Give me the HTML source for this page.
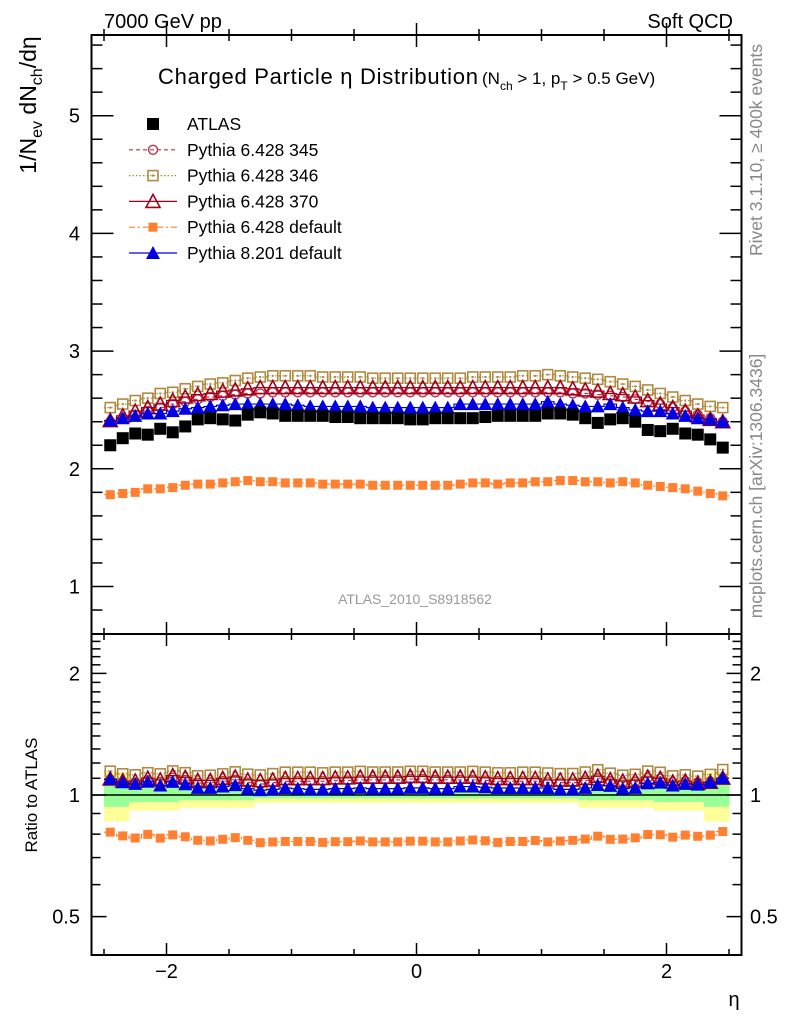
<!DOCTYPE html>
<html><head><meta charset="utf-8"><style>
html,body{margin:0;padding:0;background:#fff;}
svg{display:block;font-family:"Liberation Sans",sans-serif;}
</style></head><body>
<svg id="chart" width="786" height="1024" viewBox="0 0 786 1024" xmlns="http://www.w3.org/2000/svg">
<text x="104" y="28" font-size="20">7000 GeV pp</text>
<text x="733" y="28" font-size="20" text-anchor="end">Soft QCD</text>
<text x="158" y="84" font-size="22" textLength="320">Charged Particle η Distribution</text>
<text x="482" y="84" font-size="17">(N<tspan font-size="12" dy="6">ch</tspan><tspan dy="-6"> &gt; 1, p</tspan><tspan font-size="12" dy="6">T</tspan><tspan dy="-6"> &gt; 0.5 GeV)</tspan></text>
<text transform="translate(36,105) rotate(-90)" font-size="23" text-anchor="middle">1/N<tspan font-size="16" dy="6">ev</tspan><tspan dy="-6"> dN</tspan><tspan font-size="16" dy="6">ch</tspan><tspan dy="-6">/dη</tspan></text>
<text transform="translate(37,795) rotate(-90)" font-size="17" text-anchor="middle">Ratio to ATLAS</text>
<text transform="translate(762,150) rotate(-90)" font-size="17.5" fill="#888" text-anchor="middle">Rivet 3.1.10, ≥ 400k events</text>
<text transform="translate(762,486) rotate(-90)" font-size="17.5" fill="#888" text-anchor="middle">mcplots.cern.ch [arXiv:1306.3436]</text>
<text x="415" y="604" font-size="14" fill="#999" text-anchor="middle">ATLAS_2010_S8918562</text>
<text x="734" y="1006" font-size="20" text-anchor="middle">η</text>
<g id="plot"></g>
<g id="legend"></g>
</svg>
<script>
const etaCenters = [-2.45,-2.35,-2.25,-2.15,-2.05,-1.95,-1.85,-1.75,-1.65,-1.55,-1.45,-1.35,-1.25,-1.15,-1.05,-0.95,-0.85,-0.75,-0.65,-0.55,-0.45,-0.35,-0.25,-0.15,-0.05,0.05,0.15,0.25,0.35,0.45,0.55,0.65,0.75,0.85,0.95,1.05,1.15,1.25,1.35,1.45,1.55,1.65,1.75,1.85,1.95,2.05,2.15,2.25,2.35,2.45];
const atlas = [2.20,2.26,2.30,2.29,2.34,2.31,2.36,2.42,2.43,2.42,2.41,2.46,2.48,2.47,2.45,2.45,2.45,2.45,2.44,2.44,2.43,2.43,2.43,2.43,2.42,2.42,2.43,2.43,2.43,2.43,2.44,2.45,2.45,2.45,2.45,2.47,2.47,2.46,2.43,2.39,2.42,2.43,2.40,2.33,2.32,2.34,2.30,2.29,2.25,2.18];
const p345 = [2.40,2.43,2.46,2.49,2.52,2.55,2.57,2.59,2.61,2.62,2.63,2.64,2.64,2.65,2.65,2.65,2.65,2.65,2.65,2.65,2.65,2.65,2.65,2.65,2.65,2.65,2.65,2.65,2.65,2.65,2.65,2.65,2.65,2.65,2.65,2.65,2.65,2.64,2.64,2.63,2.62,2.61,2.59,2.57,2.55,2.52,2.49,2.46,2.43,2.40];
const p346 = [2.52,2.55,2.58,2.60,2.64,2.65,2.68,2.70,2.72,2.73,2.75,2.77,2.78,2.79,2.79,2.79,2.79,2.78,2.78,2.78,2.78,2.77,2.77,2.77,2.77,2.77,2.77,2.77,2.77,2.78,2.78,2.78,2.78,2.79,2.79,2.80,2.79,2.78,2.77,2.76,2.74,2.72,2.70,2.67,2.64,2.61,2.58,2.55,2.53,2.52];
const p370 = [2.41,2.45,2.49,2.52,2.55,2.58,2.61,2.63,2.64,2.66,2.67,2.68,2.69,2.69,2.69,2.69,2.69,2.69,2.69,2.69,2.69,2.69,2.69,2.69,2.69,2.69,2.69,2.69,2.69,2.69,2.69,2.69,2.69,2.69,2.69,2.69,2.69,2.68,2.67,2.66,2.64,2.63,2.61,2.58,2.55,2.52,2.49,2.45,2.42,2.40];
const p6def = [1.78,1.79,1.80,1.83,1.83,1.84,1.86,1.87,1.87,1.88,1.89,1.90,1.89,1.89,1.88,1.88,1.88,1.87,1.87,1.87,1.87,1.86,1.86,1.86,1.86,1.86,1.86,1.86,1.87,1.88,1.88,1.87,1.88,1.88,1.89,1.89,1.90,1.90,1.89,1.89,1.88,1.89,1.88,1.86,1.85,1.84,1.83,1.81,1.79,1.77];
const p8def = [2.41,2.43,2.45,2.47,2.47,2.49,2.51,2.52,2.53,2.54,2.55,2.55,2.55,2.55,2.55,2.54,2.53,2.53,2.53,2.53,2.53,2.52,2.52,2.52,2.52,2.52,2.52,2.52,2.55,2.55,2.55,2.55,2.55,2.55,2.55,2.57,2.55,2.54,2.53,2.53,2.55,2.52,2.50,2.49,2.49,2.47,2.45,2.43,2.42,2.40];
const errInner = [0.065,0.065,0.04,0.04,0.04,0.04,0.03,0.03,0.03,0.03,0.03,0.03,0.02,0.02,0.02,0.02,0.02,0.02,0.02,0.02,0.02,0.02,0.02,0.02,0.02,0.02,0.02,0.02,0.02,0.02,0.02,0.02,0.02,0.02,0.02,0.02,0.02,0.02,0.03,0.03,0.03,0.03,0.03,0.03,0.04,0.04,0.04,0.04,0.065,0.065];
const errOuter = [0.14,0.14,0.085,0.085,0.085,0.085,0.07,0.07,0.07,0.07,0.07,0.07,0.045,0.045,0.045,0.045,0.045,0.045,0.045,0.045,0.045,0.045,0.045,0.045,0.045,0.045,0.045,0.045,0.045,0.045,0.045,0.045,0.045,0.045,0.045,0.045,0.045,0.045,0.07,0.07,0.07,0.07,0.07,0.07,0.085,0.085,0.085,0.085,0.14,0.14];
const mainTicks = [1,2,3,4,5];
const ratioTicks = [0.5,1,2];
const xTickLabels = [-2,0,2];

const NS='http://www.w3.org/2000/svg';
const plot=document.getElementById('plot');
const L=91.5,R=741.5,T=35,MB=634,RB=955;
const xs=v=>416.5+v*125;
const ym=v=>115.7-(v-5)*117.7;
const yr=v=>795-Math.log10(v)*404;
function mk(tag,attrs,parent){const e=document.createElementNS(NS,tag);for(const k in attrs)e.setAttribute(k,attrs[k]);(parent||plot).appendChild(e);return e;}

const bands=mk('g',{});


etaCenters.forEach((c,i)=>{
  const x0=xs(c-0.05),x1=xs(c+0.05);
  const ry=mk('rect',{x:x0,y:yr(1+errOuter[i]),width:x1-x0+0.5,height:yr(1-errOuter[i])-yr(1+errOuter[i]),fill:'#ffff99'},bands);
  
  
  const rg=mk('rect',{x:x0,y:yr(1+errInner[i]),width:x1-x0+0.5,height:yr(1-errInner[i])-yr(1+errInner[i]),fill:'#99ff99'},bands);
  
  
});
const one=mk('line',{x1:L,x2:R,y1:yr(1),y2:yr(1),stroke:'#000','stroke-width':1.5});



function marker(g,type,x,y,col,s){
  let e;
  if(type==='sq'){e=mk('rect',{x:x-s/2,y:y-s/2,width:s,height:s,fill:col},g);}
  else if(type==='osq'){e=mk('rect',{x:x-s/2+1,y:y-s/2+1,width:s-2,height:s-2,fill:'none',stroke:col,'stroke-width':1.6},g);mk('rect',{x:x-1,y:y-1,width:2,height:2,fill:col},g);}
  else if(type==='oc'){e=mk('circle',{cx:x,cy:y,r:s/2-1,fill:'none',stroke:col,'stroke-width':1.4},g);}
  else if(type==='otri'){e=mk('polygon',{points:`${x},${y-s/2-1} ${x-s/2-1},${y+s/2} ${x+s/2+1},${y+s/2}`,fill:'none',stroke:col,'stroke-width':1.6},g);}
  else if(type==='tri'){e=mk('polygon',{points:`${x},${y-s/2-1} ${x-s/2-1},${y+s/2} ${x+s/2+1},${y+s/2}`,fill:col},g);}
  
  
}
function stepPath(vals,yf){
  let d='';
  etaCenters.forEach((c,i)=>{const y=yf(vals[i]);d+=(i?'L':'M')+xs(c-0.05)+','+y+'L'+xs(c+0.05)+','+y;});
  return d;
}
const series=[
 {name:'pythia6-345',vals:p345,col:'#c0304c',m:'oc',dash:'4,3',s:11},
 {name:'pythia6-346',vals:p346,col:'#b08a40',m:'osq',dash:'1.5,2',s:12},
 {name:'pythia6-370',vals:p370,col:'#a00018',m:'otri',dash:'',s:12},
 {name:'pythia6-default',vals:p6def,col:'#ff8030',m:'sq',dash:'6,3,2,3',s:9},
 {name:'pythia8-default',vals:p8def,col:'#0000e0',m:'tri',dash:'',s:12}
];
series.forEach(S=>{
  [ym,yr].forEach((yf,pi)=>{
    const g=mk('g',{});
    
    
    const vals=pi?S.vals.map((v,i)=>v/atlas[i]):S.vals;
    const p=mk('path',{d:stepPath(vals,yf),fill:'none',stroke:S.col,'stroke-width':1.2,'stroke-dasharray':S.dash},g);
    
    
    etaCenters.forEach((c,i)=>marker(g,S.m,xs(c),yf(vals[i]),S.col,S.s));
  });
});
const ga=mk('g',{});


etaCenters.forEach((c,i)=>marker(ga,'sq',xs(c),ym(atlas[i]),'#000',12));

[[T,MB],[MB,RB]].forEach(([t,b],k)=>{
  const f=mk('rect',{x:L,y:t,width:R-L,height:b-t,fill:'none',stroke:'#000','stroke-width':2});
  
  
});
function tick(x1,y1,x2,y2){const t=mk('line',{x1,y1,x2,y2,stroke:'#000','stroke-width':1.5});}
function label(x,y,txt,anchor,size){const t=mk('text',{x,y,'text-anchor':anchor,'font-size':size});t.textContent=txt;}
for(let v=-2.5;v<=2.51;v+=0.5){
  const x=xs(v);const maj=Math.abs(Math.round(v)-v)<1e-6&&Math.round(v)%2===0;const len=maj?12:6;
  [T,MB,RB].forEach(y=>{tick(x,y,x,y-len);});
  [T,MB].forEach(y=>{tick(x,y,x,y+len);});
}
xTickLabels.forEach(v=>label(xs(v),978,v<0?'\u2212'+Math.abs(v):String(v),'middle',20));
for(let v=0.8;v<=5.61;v+=0.2){
  const y=ym(v);const maj=Math.abs(v-Math.round(v))<1e-6;const len=maj?22:11;
  tick(L,y,L+len,y);tick(R,y,R-len,y);
}
mainTicks.forEach(v=>label(80,ym(v)+7,String(v),'end',20));
const minor=[0.4,0.5,0.6,0.7,0.8,0.9,1,1.1,1.2,1.3,1.4,1.5,1.6,1.7,1.8,1.9,2,2.1,2.2,2.3,2.4,2.5];
minor.forEach(v=>{const y=yr(v);if(y<MB||y>RB)return;const maj=ratioTicks.includes(v);const len=maj?15:9;tick(L,y,L+len,y);tick(R,y,R-len,y);});
ratioTicks.forEach(v=>{label(80,yr(v)+7,String(v),'end',20);label(750,yr(v)+7,String(v),'start',20);});

const lg=document.getElementById('legend');
const entries=[
 {t:'ATLAS',m:'sq',col:'#000',dash:null,s:12},
 {t:'Pythia 6.428 345',m:'oc',col:'#c0304c',dash:'4,3',s:11},
 {t:'Pythia 6.428 346',m:'osq',col:'#b08a40',dash:'1.5,2',s:12},
 {t:'Pythia 6.428 370',m:'otri',col:'#a00018',dash:'',s:12},
 {t:'Pythia 6.428 default',m:'sq',col:'#ff8030',dash:'6,3,2,3',s:9},
 {t:'Pythia 8.201 default',m:'tri',col:'#0000e0',dash:'',s:12}
];
entries.forEach((e,i)=>{
  const y=124+i*25.8;
  const g=mk('g',{},lg);
  
  
  if(e.dash!==null){const l=mk('line',{x1:129,x2:177,y1:y,y2:y,stroke:e.col,'stroke-width':1.2,'stroke-dasharray':e.dash},g);}
  marker(g,e.m,153,y,e.col,e.s);
  const t=mk('text',{x:187,y:y+6,'font-size':17.5},g);t.textContent=e.t;
  
  
});
</script>
</body></html>
